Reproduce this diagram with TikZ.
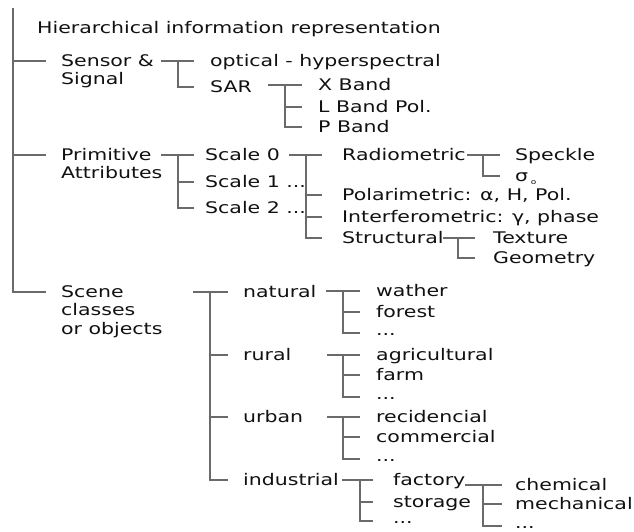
\documentclass[tikz,border=0pt]{standalone}
\usepackage{fontspec}
\setmainfont{DejaVu Sans}[FakeStretch=1.28]
\usepackage{tikz}
\definecolor{dalGri}{HTML}{6A6A6A}
\definecolor{yaziRengi}{HTML}{111111}

\begin{document}
\begin{tikzpicture}[x=1pt,y=-1pt,
  every node/.style={font=\fontsize{16pt}{18.5pt}\selectfont,text=yaziRengi},
  lbl/.style={anchor=west,inner sep=0pt,text height=11.7pt,text depth=0pt},
  nokta/.style={lbl,text height=4pt},
  dal/.style={draw=dalGri,line width=1.2pt}]
\useasboundingbox (0,0) rectangle (634,532);
% baslik
\node[lbl] (title) at (37,28) {Hierarchical information representation};
% birinci seviye
\node[lbl] (sensor) at (61,61) {Sensor \&};
\node[lbl] (signal) at (61,79) {Signal};
\node[lbl] (primitive) at (61,155) {Primitive};
\node[lbl] (attrib) at (61,173) {Attributes};
\node[lbl] (scene) at (61,292) {Scene};
\node[lbl] (classes) at (61,310) {classes};
\node[lbl] (objects) at (61,329) {or objects};
% sensor alt dallari
\node[lbl] (optical) at (210,61) {optical - hyperspectral};
\node[lbl] (sar) at (210,87) {SAR};
\node[lbl] (xband) at (318,85) {X Band};
\node[lbl] (lband) at (318,107) {L Band Pol.};
\node[lbl] (pband) at (318,127) {P Band};
% olcekler
\node[lbl] (scale0) at (205,155) {Scale 0};
\node[lbl] (scale1) at (205,182) {Scale 1 ...};
\node[lbl] (scale2) at (205,208) {Scale 2 ...};
\node[lbl] (radio) at (342,155) {Radiometric};
\node[lbl] (polar) at (342,195) {Polarimetric: α, H, Pol.};
\node[lbl] (interf) at (342,217) {Interferometric: γ, phase};
\node[lbl] (struct) at (342,238) {Structural};
\node[lbl] (speckle) at (515,155) {Speckle};
\node[lbl] (sigma) at (515,176) {σ\,\raisebox{-3pt}{\scriptsize o}};
\node[lbl] (texture) at (493,238) {Texture};
\node[lbl] (geometry) at (493,258) {Geometry};
% sahne siniflari
\node[lbl] (natural) at (243,292) {natural};
\node[lbl] (rural) at (243,355) {rural};
\node[lbl] (urban) at (243,417) {urban};
\node[lbl] (industrial) at (243,480) {industrial};
\node[lbl] (wather) at (376,291) {wather};
\node[lbl] (forest) at (376,312) {forest};
\node[nokta] (natdots) at (376,333) {...};
\node[lbl] (agri) at (376,355) {agricultural};
\node[lbl] (farm) at (376,375) {farm};
\node[nokta] (rurdots) at (376,397) {...};
\node[lbl] (resid) at (376,417) {recidencial};
\node[lbl] (commerc) at (376,437) {commercial};
\node[nokta] (urbdots) at (376,459) {...};
\node[lbl] (factory) at (393,480) {factory};
\node[lbl] (storage) at (393,502) {storage};
\node[nokta] (inddots) at (393,521) {...};
\node[lbl] (chemical) at (515,485) {chemical};
\node[lbl] (mechanic) at (515,504) {mechanical};
\node[nokta] (facdots) at (515,526) {...};

% ana govde
\coordinate (kok) at (13,8);
\draw[dal] (kok) |- ([xshift=-15pt]scene.west);
\foreach \n in {sensor,primitive}
  \draw[dal] (kok |- \n.west) -- ([xshift=-15pt]\n.west);
% sensor & signal
\draw[dal] (optical.west -| 161,0) -- ([xshift=-16pt]optical.west);
\draw[dal] ([xshift=-32pt]optical.west) |- ([xshift=-16pt]sar.west);
% sar bantlari
\draw[dal] (xband.west -| 268,0) -- ([xshift=-16pt]xband.west);
\foreach \c in {lband,pband}
  \draw[dal] ([xshift=-33pt]xband.west) |- ([xshift=-16pt]\c.west);
% primitive attributes
\draw[dal] (scale0.west -| 161,0) -- ([xshift=-11pt]scale0.west);
\foreach \c in {scale1,scale2}
  \draw[dal] ([xshift=-27pt]scale0.west) |- ([xshift=-11pt]\c.west);
% scale 0
\draw[dal] (radio.west -| 289,0) -- ([xshift=-20pt]radio.west);
\foreach \c in {polar,interf,struct}
  \draw[dal] ([xshift=-36pt]radio.west) |- ([xshift=-20pt]\c.west);
% radiometric
\draw[dal] (speckle.west -| 467,0) -- ([xshift=-15pt]speckle.west);
\draw[dal] ([xshift=-32pt]speckle.west) |- ([xshift=-15pt]sigma.west);
% structural
\draw[dal] (texture.west -| 443,0) -- ([xshift=-18pt]texture.west);
\draw[dal] ([xshift=-35pt]texture.west) |- ([xshift=-18pt]geometry.west);
% scene classes
\draw[dal] (natural.west -| 193,0) -- ([xshift=-15pt]natural.west);
\foreach \c in {rural,urban,industrial}
  \draw[dal] ([xshift=-33pt]natural.west) |- ([xshift=-15pt]\c.west);
% natural
\draw[dal] (wather.west -| 326,0) -- ([xshift=-16pt]wather.west);
\foreach \c in {forest,natdots}
  \draw[dal] ([xshift=-33pt]wather.west) |- ([xshift=-16pt]\c.west);
% rural
\draw[dal] (agri.west -| 327,0) -- ([xshift=-16pt]agri.west);
\foreach \c in {farm,rurdots}
  \draw[dal] ([xshift=-33pt]agri.west) |- ([xshift=-16pt]\c.west);
% urban
\draw[dal] (resid.west -| 327,0) -- ([xshift=-16pt]resid.west);
\foreach \c in {commerc,urbdots}
  \draw[dal] ([xshift=-33pt]resid.west) |- ([xshift=-16pt]\c.west);
% industrial
\draw[dal] (factory.west -| 342,0) -- ([xshift=-20pt]factory.west);
\foreach \c in {storage,inddots}
  \draw[dal] ([xshift=-33pt]factory.west) |- ([xshift=-20pt]\c.west);
% factory
\draw[dal] (chemical.west -| 465,0) -- ([xshift=-13pt]chemical.west);
\foreach \c in {mechanic,facdots}
  \draw[dal] ([xshift=-32pt]chemical.west) |- ([xshift=-13pt]\c.west);
\end{tikzpicture}
\end{document}
